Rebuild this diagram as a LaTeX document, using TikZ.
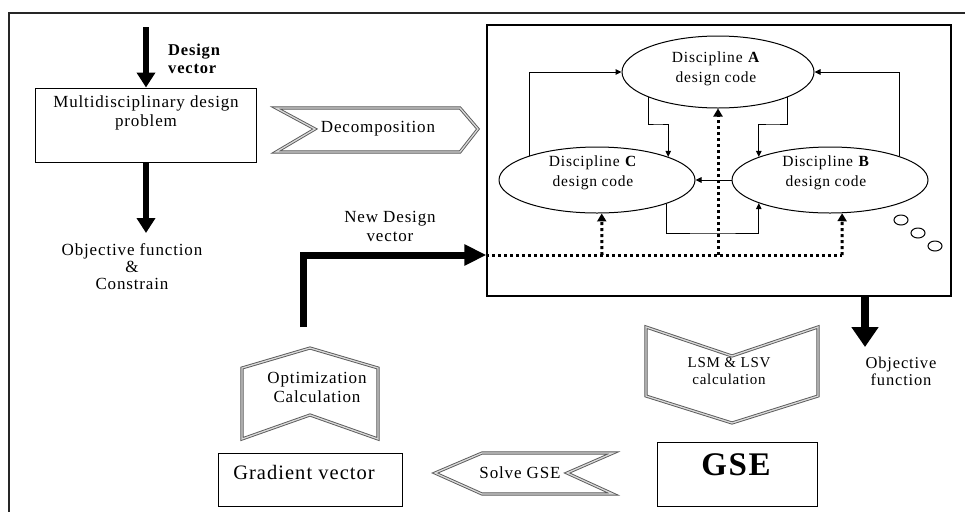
\documentclass[tikz,border=0pt]{standalone}
\usepackage{fontspec}
\setmainfont{Liberation Serif}[LetterSpace=5]
\usetikzlibrary{arrows.meta,shapes.geometric}
\begin{document}
\begin{tikzpicture}[x=1pt,y=-1pt,
 txt/.style={font=\fontsize{17}{19}\selectfont, align=center, inner sep=0pt},
 box/.style={draw, line width=1pt, inner sep=0pt},
 disc/.style={ellipse, draw, line width=1pt, inner sep=0pt},
 disctext/.style={font=\fontsize{15.5}{20}\selectfont, align=center, inner sep=0pt},
 flow/.style={line width=1pt, -{Triangle[length=6pt,width=5.5pt]}},
 dots/.style={line width=3pt, dash pattern=on 3pt off 3pt, -{Triangle[length=8pt,width=9pt]}},
 dotline/.style={line width=3pt, dash pattern=on 3pt off 3pt},
 big/.style={line width=5.5pt, line join=miter, -{Triangle[length=15pt,width=18pt]}},
 banner/.style={draw=gray!70!black, double=gray!30, double distance=1.3pt, line width=0.9pt, line join=miter},
 bubble/.style={line width=1pt}]
\useasboundingbox (0,0) rectangle (965,512);
\fill[white] (0,0) rectangle (965,512);

% outer frame
\draw[line width=2.5pt, black!85] (965,13) -- (9,13) -- (9,512);

% left column
\node[box, minimum width=221pt, minimum height=74pt] (mdp) at (146,125) {};
\node[txt] (mdptext) at (146,112.5) {Multidisciplinary design\\problem};
\node[txt, anchor=west, align=left, font=\fontsize{16.5}{18}\bfseries] (dvtext) at (168,59) {Design\\vector};
\coordinate (dv) at (146,27);
\draw[big] (dv) -- (mdp.north);
\coordinate (of) at (146,233);
\draw[big] (mdp.south) -- (of);
\node[txt, font=\fontsize{17}{17}\selectfont] (oftext) at (132,267) {Objective function\\\&\\Constrain};

% decomposition banner
\draw[banner] (276,108) -- (460,108) -- (478,129) -- (460,152) -- (276,152) -- (315,129) -- cycle;
\node[txt] (decomp) at (378,129) {Decomposition};

% inner box with disciplines
\node[box, line width=1.2pt, minimum width=464pt, minimum height=271pt] (inner) at (719,160.5) {};
\node[disc, minimum width=192pt, minimum height=72pt] (A) at (718,72) {};
\node[disc, minimum width=196pt, minimum height=66pt] (C) at (597,180) {};
\node[disc, minimum width=196pt, minimum height=66pt] (B) at (830,180) {};
\node[disctext] (Atext) at (716,69) {Discipline \textbf{A}\\design code};
\node[disctext] (Ctext) at (593,173) {Discipline \textbf{C}\\design code};
\node[disctext] (Btext) at (826,173) {Discipline \textbf{B}\\design code};

\draw[flow] (C.160.7) |- (A.west);
\draw[flow] (B.19.3) |- (A.east);
\draw[flow] (A.200.5) |- (658,124) -| (C.18.7);
\draw[flow] (A.340.6) |- (773,124) -| (B.162.3);
\draw[flow] (B.west) -- (C.east);
\draw[flow] (C.341.3) |- (713,233) -| (B.198.3);

% dotted design-vector distribution
\coordinate (dL) at (inner.west |- 0,255);
\coordinate (dC) at (602,255);
\coordinate (dA) at (718,255);
\coordinate (dB) at (842,255);
\draw[dotline] (dL) -- (dB);
\draw[dots] (dC) -- (C.278.6);
\draw[dots] (dA) -- (A.south);
\draw[dots] (dB) -- (B.290.1);

% thought bubbles
\draw[bubble] (901,220) ellipse [x radius=7, y radius=5];
\draw[bubble] (918,233) ellipse [x radius=7, y radius=5];
\draw[bubble] (935,246) ellipse [x radius=7, y radius=5];

% new design vector
\coordinate (nd) at (303,327);
\draw[big, line width=7pt, -{Triangle[length=22pt,width=20pt]}] (nd) |- (dL);
\node[txt] (ndtext) at (390,226) {New Design\\vector};

% objective function out of inner box
\coordinate (of2) at (865,347);
\draw[big, line width=7.5pt, -{Triangle[length=20pt,width=26pt]}] (inner.south -| of2) -- (of2);
\node[txt, font=\fontsize{16.5}{17}\selectfont] (of2text) at (901,371) {Objective\\function};

% LSM & LSV banner
\draw[banner] (646,327) -- (732,356) -- (818,327) -- (818,396) -- (732,423) -- (646,396) -- cycle;
\node[txt, font=\fontsize{15}{17}\selectfont] (lsm) at (729,371.5) {LSM \& LSV\\calculation};

% GSE
\node[box, minimum width=160pt, minimum height=64pt] (gse) at (737,474) {};
\node[txt, font=\fontsize{33}{36}\bfseries] (gsetext) at (736,465) {GSE};

% Solve GSE banner
\draw[banner] (435,473) -- (482,453) -- (613,453) -- (567,473) -- (613,494) -- (482,494) -- cycle;
\node[txt] (solve) at (520,473) {Solve GSE};

% Gradient vector
\node[box, minimum width=184pt, minimum height=53pt] (grad) at (310,479.5) {};
\node[txt, font=\fontsize{20.5}{22}\selectfont] (gradtext) at (304,472) {Gradient vector};

% Optimization banner
\draw[banner] (310,348) -- (378,368) -- (378,439) -- (310,415) -- (242,439) -- (242,368) -- cycle;
\node[txt] (opt) at (317,387) {Optimization\\Calculation};
\end{tikzpicture}
\end{document}
